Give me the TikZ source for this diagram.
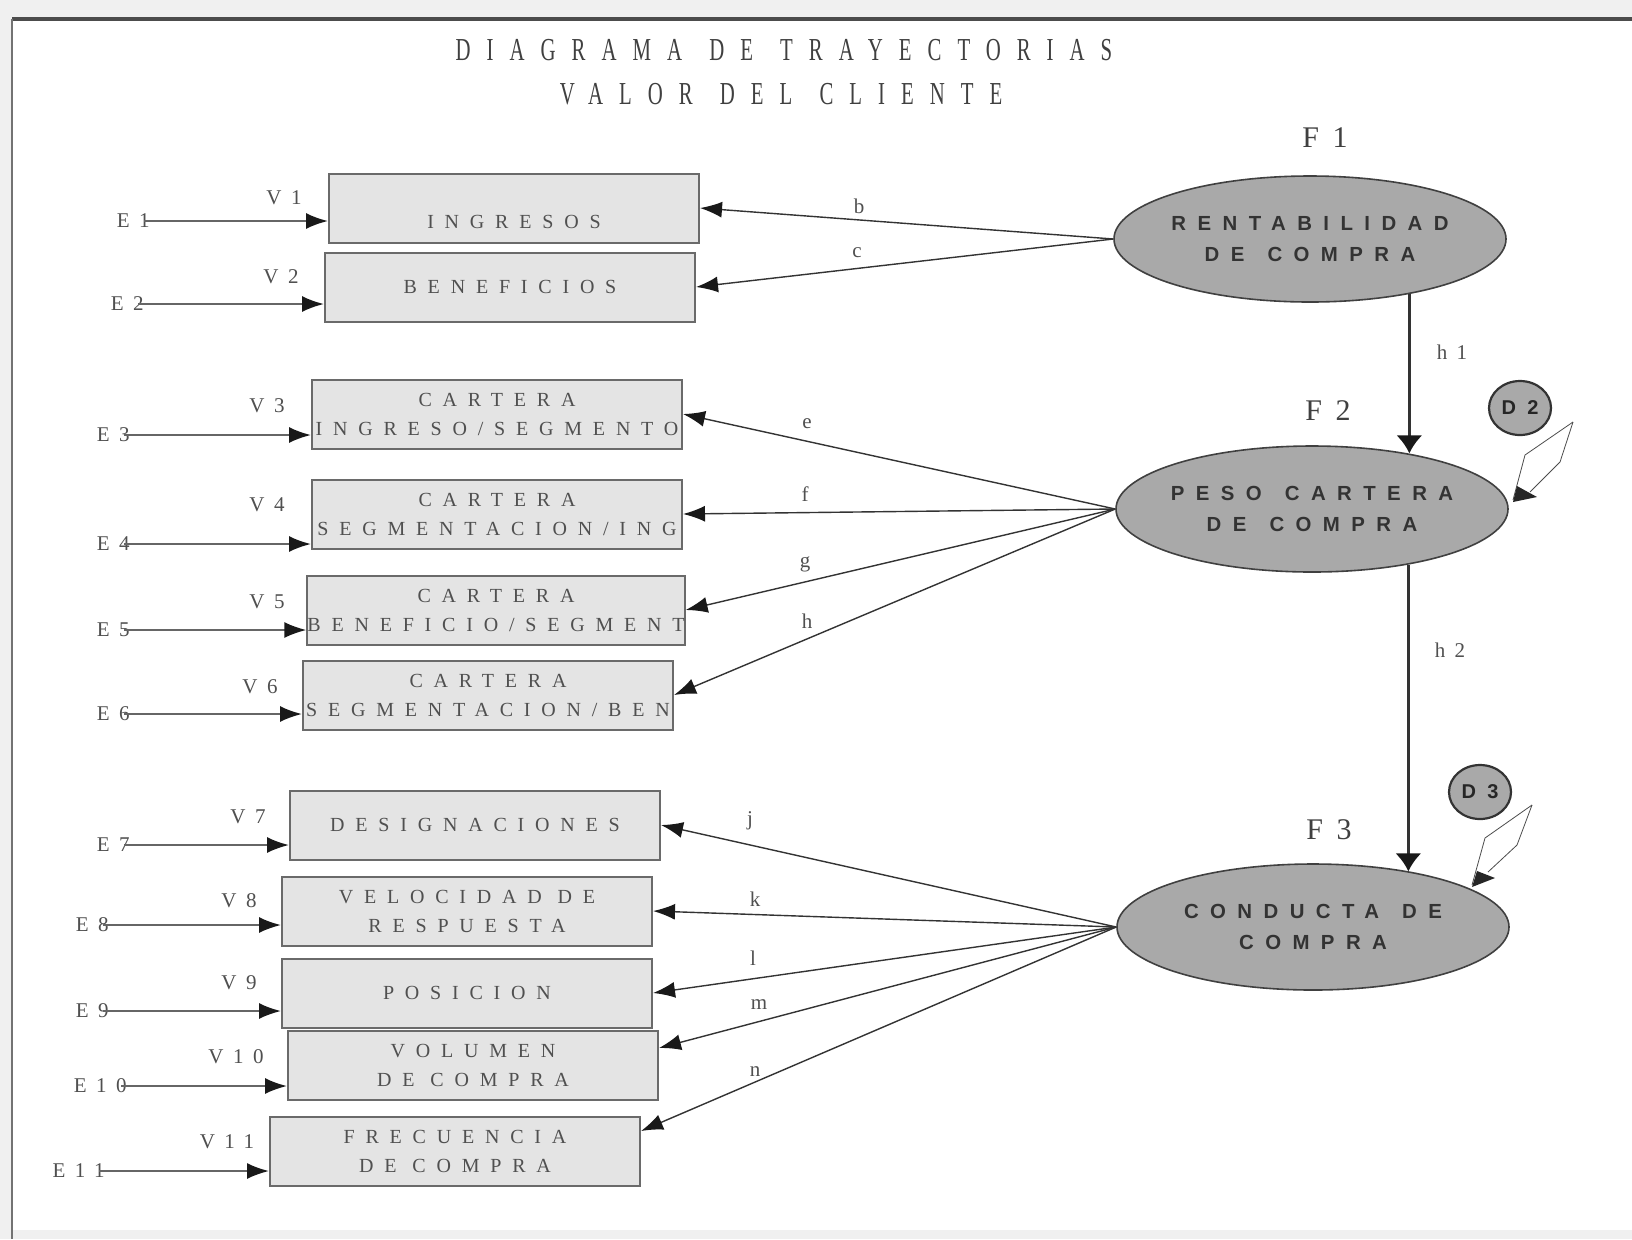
\documentclass[tikz,border=0pt]{standalone}
\usepackage{fontspec}
\setmainfont{Liberation Serif}
\newfontfamily\titlefont[LetterSpace=50,FakeStretch=0.65]{Liberation Serif}
\newfontfamily\boxfont[LetterSpace=54]{Liberation Serif}
\newfontfamily\ellfont[LetterSpace=56]{Liberation Sans}
\newfontfamily\labfont[LetterSpace=45]{Liberation Serif}
\usetikzlibrary{arrows.meta,shapes.geometric}

\definecolor{boxgray}{HTML}{E4E4E4}
\definecolor{ellgray}{HTML}{A9A9A9}
\definecolor{linegray}{HTML}{6A6A6A}
\definecolor{txtgray}{HTML}{505050}

\newcommand{\wsp}{\ \hspace{3pt}}

\tikzset{
  title/.style={inner sep=0pt, text=black!75, font=\titlefont\fontsize{16}{18}\selectfont},
  vbox/.style={draw=linegray, line width=1pt, fill=boxgray, minimum width=185pt,
    minimum height=34.5pt, inner sep=0pt, align=center, text=txtgray,
    font=\boxfont\fontsize{10}{14.5}\selectfont},
  fbox/.style={ellipse, draw=black!75, line width=0.8pt, fill=ellgray, minimum width=196pt,
    minimum height=63pt, inner xsep=-30pt, inner ysep=0pt, align=center, text=black!80,
    font=\ellfont\bfseries\fontsize{10.2}{15.5}\selectfont},
  dcirc/.style={ellipse, draw=black!80, line width=1.1pt, fill=ellgray, minimum width=31pt,
    minimum height=27pt, inner sep=0pt, text=black!85,
    font=\ellfont\bfseries\fontsize{10}{11}\selectfont},
  lab/.style={inner sep=0pt, text=txtgray, font=\labfont\fontsize{10.5}{12}\selectfont},
  flab/.style={inner sep=0pt, text=black!75, font=\labfont\fontsize{15}{17}\selectfont},
  earrow/.style={draw=black!60, line width=1pt,
    -{Latex[length=11pt,width=8pt,color=black!90]}},
  parrow/.style={draw=black!80, line width=0.7pt,
    -{Latex[length=11pt,width=8pt,color=black!90]}},
  harrow/.style={draw=black!80, line width=1.3pt,
    -{Latex[length=9pt,width=13pt,color=black!90]}},
  loopline/.style={draw=black!70, line width=0.4pt}
}

\begin{document}
\begin{tikzpicture}[x=0.5pt,y=-0.5pt]
  \useasboundingbox (0,0) rectangle (1632,1239);
  % page frame
  \fill[gray!12] (0,0) rectangle (1632,1239);
  \fill[white] (12,19) rectangle (1632,1230);
  \draw[black!70, line width=1.6pt] (12,19) -- (1632,19);
  \draw[black!55, line width=1.2pt] (12,19) -- (12,1239);

  \node[title] (t1) at (784,50) {DIAGRAMA\wsp DE\wsp TRAYECTORIAS};
  \node[title] (t2) at (781,94) {VALOR\wsp DEL\wsp CLIENTE};

  % observed variables
  \node[vbox] (v1) at (514,208) {\rule{0pt}{21pt}INGRESOS};
  \node[vbox] (v2) at (510,287) {BENEFICIOS};
  \node[vbox] (v3) at (497,414) {CARTERA\\INGRESO/SEGMENTO};
  \node[vbox] (v4) at (497,514) {CARTERA\\SEGMENTACION/ING};
  \node[vbox] (v5) at (496,610) {CARTERA\\BENEFICIO/SEGMENT};
  \node[vbox] (v6) at (488,695) {CARTERA\\SEGMENTACION/BEN};
  \node[vbox] (v7) at (475,825) {DESIGNACIONES};
  \node[vbox] (v8) at (467,911) {VELOCIDAD DE\\RESPUESTA};
  \node[vbox] (v9) at (467,993) {POSICION};
  \node[vbox] (v10) at (473,1065) {VOLUMEN\\DE COMPRA};
  \node[vbox] (v11) at (455,1151) {FRECUENCIA\\DE COMPRA};

  % factors
  \node[fbox] (f1) at (1310,239) {RENTABILIDAD\\DE\wsp COMPRA};
  \node[fbox] (f2) at (1312,509) {PESO\wsp CARTERA\\DE\wsp COMPRA};
  \node[fbox] (f3) at (1313,927) {CONDUCTA\wsp DE\\COMPRA};
  \node[flab] (fl1) at (1325,138) {F1};
  \node[flab] (fl2) at (1328,411) {F2};
  \node[flab] (fl3) at (1329,830) {F3};

  \node[dcirc] (d2) at (1520,408) {D2};
  \node[dcirc] (d3) at (1480,792) {D3};

  % errors
  \foreach \i/\x/\y in {1/150/221, 2/144/304, 3/130/435, 4/130/544, 5/130/630, 6/130/714,
                        7/130/845, 8/109/925, 9/109/1011, 10/127/1086, 11/105/1171}
  {
    \node[lab, anchor=east] (e\i) at (\x,\y) {E\i};
    \draw[earrow] ([xshift=-3pt]e\i.east) -- (e\i.east -| v\i.west);
  }
  \foreach \i/\x/\y in {1/284/198, 2/281/277, 3/267/406, 4/267/505, 5/267/602, 6/260/687,
                        7/248/817, 8/239/901, 9/239/983, 10/236/1057, 11/227/1142}
    \node[lab] (vl\i) at (\x,\y) {V\i};

  % loadings
  \foreach \v/\f/\s in {1/1/0, 2/1/0, 3/2/0, 4/2/0, 5/2/0, 6/2/0,
                        7/3/0, 8/3/0, 9/3/0, 10/3/8.5, 11/3/10}
    \draw[parrow] (f\f.west) -- ([yshift=\s pt]v\v.east);
  \foreach \t/\x/\y in {b/859/206, c/857/253, e/807/424, f/805/494, g/805/564, h/807/621,
                        j/750/821, k/755/899, l/753/958, m/759/1005, n/755/1072}
    \node[lab] (l\t) at (\x,\y) {\t};

  % structural paths
  \draw[harrow] (f1.-29) -- (f1.-29 |- f2.30);
  \draw[harrow] (f2.-30) -- (f2.-30 |- f3.30);
  \node[lab] (h1) at (1452,352) {h1};
  \node[lab] (h2) at (1450,650) {h2};

  % disturbance loops
  \coordinate (d2a) at (1573,422);
  \coordinate (d2b) at (1513,500);
  \draw[loopline] (d2a) -- (1525,455) -- (d2b);
  \draw[loopline] (d2a) -- (1560,462) -- (1530,492);
  \fill[black!85] (1513,502) -- (1517,486) -- (1537,497) -- cycle;
  \coordinate (d3a) at (1532,805);
  \coordinate (d3b) at (1472,885);
  \draw[loopline] (d3a) -- (1485,838) -- (d3b);
  \draw[loopline] (d3a) -- (1517,845) -- (1488,872);
  \fill[black!85] (1472,887) -- (1477,871) -- (1495,878) -- cycle;
\end{tikzpicture}
\end{document}
